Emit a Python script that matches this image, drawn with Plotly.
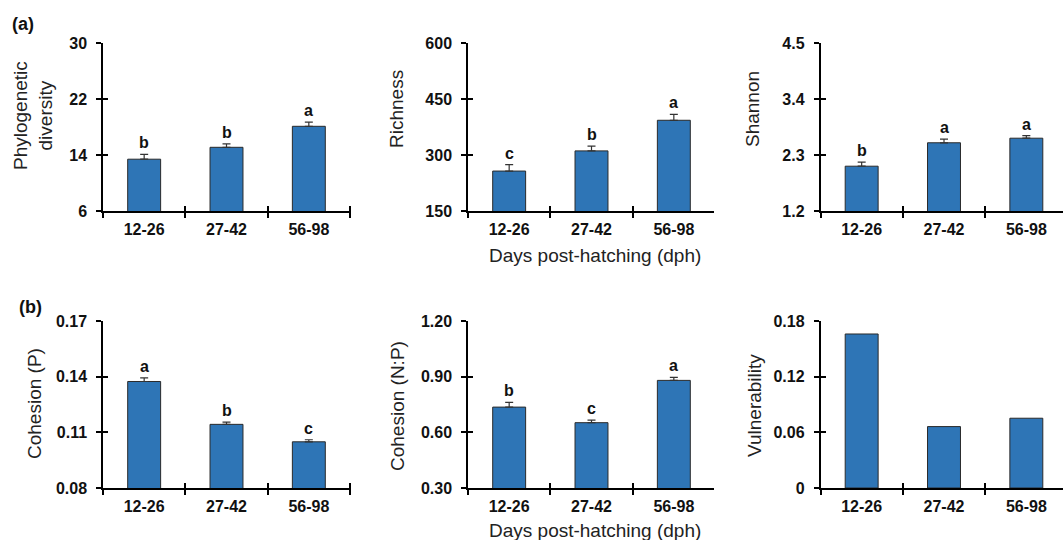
import plotly.graph_objects as go

categories = ["12-26", "27-42", "56-98"]

pd_mean = [13.4, 15.1, 18.1]
pd_err = [0.7, 0.5, 0.6]
pd_letters = ["b", "b", "a"]

rich_mean = [257, 311, 393]
rich_err = [17, 13, 16]
rich_letters = ["c", "b", "a"]

shan_mean = [2.08, 2.54, 2.63]
shan_err = [0.08, 0.07, 0.05]
shan_letters = ["b", "a", "a"]

cohp_mean = [0.1374, 0.1143, 0.1049]
cohp_err = [0.0019, 0.0012, 0.0011]
cohp_letters = ["a", "b", "c"]

cohnp_mean = [0.736, 0.652, 0.880]
cohnp_err = [0.025, 0.014, 0.016]
cohnp_letters = ["b", "c", "a"]

vul_mean = [0.166, 0.0662, 0.0752]

pd_ticks = [6, 14, 22, 30]
rich_ticks = [150, 300, 450, 600]
shan_ticks = [1.2, 2.3, 3.4, 4.5]
cohp_ticks = [0.08, 0.11, 0.14, 0.17]
cohnp_ticks = [0.30, 0.60, 0.90, 1.20]
vul_ticks = [0, 0.06, 0.12, 0.18]

pd_ticktext = ["6", "14", "22", "30"]
rich_ticktext = ["150", "300", "450", "600"]
shan_ticktext = ["1.2", "2.3", "3.4", "4.5"]
cohp_ticktext = ["0.08", "0.11", "0.14", "0.17"]
cohnp_ticktext = ["0.30", "0.60", "0.90", "1.20"]
vul_ticktext = ["0", "0.06", "0.12", "0.18"]

titles = ["Phylogenetic<br>diversity", "Richness", "Shannon",
          "Cohesion (P)", "Cohesion (N:P)", "Vulnerability"]
xlabel = "Days post-hatching (dph)"

W, H = 1063, 540
FONT = "Liberation Sans, Arial, sans-serif"
BAR = "#2E75B6"

panels = [
    (pd_mean, pd_err, pd_letters, pd_ticks, pd_ticktext),
    (rich_mean, rich_err, rich_letters, rich_ticks, rich_ticktext),
    (shan_mean, shan_err, shan_letters, shan_ticks, shan_ticktext),
    (cohp_mean, cohp_err, cohp_letters, cohp_ticks, cohp_ticktext),
    (cohnp_mean, cohnp_err, cohnp_letters, cohnp_ticks, cohnp_ticktext),
    (vul_mean, None, None, vul_ticks, vul_ticktext),
]

# pixel layout of panels: (left, right, top, bottom)
px = [
    (103, 351, 43, 211),
    (468, 714, 43, 211),
    (820.5, 1063, 43, 211),
    (103, 351, 321, 488),
    (468, 714, 321, 488),
    (820.5, 1063, 321, 488),
]
catw = [(r - l) / 3.0 for (l, r, t, b) in px[:2]]
cw = sum(catw) / len(catw)

fig = go.Figure()
layout = {}
annotations = []

for i, (mean, err, letters, ticks, ttext) in enumerate(panels):
    n = i + 1
    sx = "" if n == 1 else str(n)
    l, r, t, b = px[i]
    xmax = -0.5 + (r - l) / cw
    bar = go.Bar(
        x=categories, y=mean, width=0.4,
        marker=dict(color=BAR, line=dict(color="#2a2a2a", width=1)),
        xaxis="x" + sx, yaxis="y" + sx, showlegend=False,
    )
    if err is not None:
        bar.error_y = dict(type="data", array=err, arrayminus=[0] * 3,
                           symmetric=False, color="#333333",
                           thickness=1.2, width=4)
    fig.add_trace(bar)
    # empty traces for overlay (inside) ticks
    ox = str(n + 6)
    fig.add_trace(go.Scatter(x=[None], y=[None], xaxis="x" + ox, yaxis="y" + sx,
                             showlegend=False, hoverinfo="skip"))
    fig.add_trace(go.Scatter(x=[None], y=[None], xaxis="x" + sx, yaxis="y" + ox,
                             showlegend=False, hoverinfo="skip"))

    xdom = [l / W, r / W]
    ydom = [1 - b / H, 1 - t / H]
    yr = [ticks[0], ticks[-1]]
    layout["xaxis" + sx] = dict(
        domain=xdom, anchor="y" + sx, type="category", automargin=False,
        range=[-0.5, xmax], tickson="boundaries",
        ticks="outside", ticklen=5, tickwidth=1.5, tickcolor="black",
        showline=True, linecolor="black", linewidth=1.5,
        showgrid=False, zeroline=False, fixedrange=True, ticklabelstandoff=3,
        tickfont=dict(family=FONT, size=16, color="#111", weight="bold"),
    )
    layout["yaxis" + sx] = dict(
        domain=ydom, anchor="x" + sx, range=yr, automargin=False,
        tickmode="array", tickvals=ticks, ticktext=ttext,
        ticks="outside", ticklen=5, tickwidth=1.5, tickcolor="black",
        showline=True, linecolor="black", linewidth=1.5,
        showgrid=False, zeroline=False, ticklabelstandoff=6,
        tickfont=dict(family=FONT, size=16, color="#111", weight="bold"),
    )
    layout["xaxis" + ox] = dict(
        overlaying="x" + sx, anchor="y" + sx, side="bottom", automargin=False,
        range=[-0.5, xmax], tickmode="array", tickvals=[0.5, 1.5, 2.5],
        ticks="inside", ticklen=5, tickwidth=1.5, tickcolor="black",
        showticklabels=False, showline=False, showgrid=False, zeroline=False,
    )
    layout["yaxis" + ox] = dict(
        overlaying="y" + sx, anchor="x" + sx, side="left", range=yr,
        automargin=False, tickmode="array", tickvals=ticks,
        ticks="inside", ticklen=5, tickwidth=1.5, tickcolor="black",
        showticklabels=False, showline=False, showgrid=False, zeroline=False,
    )
    if letters is not None:
        for c, m, e, lt in zip(categories, mean, err, letters):
            annotations.append(dict(
                x=c, y=m + e, xref="x" + sx, yref="y" + sx,
                text=lt, showarrow=False, yanchor="bottom", yshift=1,
                font=dict(family=FONT, size=16, color="#111", weight="bold"),
            ))

# y-axis titles
ytitle_pos = [(33, 116), (397, 109), (753, 109), (34, 404), (397, 406), (754, 406)]
for txt, (x, y) in zip(titles, ytitle_pos):
    annotations.append(dict(
        x=x / W, y=1 - y / H, xref="paper", yref="paper", text=txt,
        textangle=-90, showarrow=False, xanchor="center", yanchor="middle",
        font=dict(family=FONT, size=19, color="#222"),
    ))

# x titles
for y in (255, 530):
    annotations.append(dict(
        x=595 / W, y=1 - y / H, xref="paper", yref="paper", text=xlabel,
        showarrow=False, xanchor="center", yanchor="middle",
        font=dict(family=FONT, size=19, color="#222"),
    ))

# panel letters
for txt, (x, y) in [("(a)", (23, 24)), ("(b)", (30, 307))]:
    annotations.append(dict(
        x=x / W, y=1 - y / H, xref="paper", yref="paper", text=txt,
        showarrow=False, xanchor="center", yanchor="middle",
        font=dict(family=FONT, size=18, color="#111", weight="bold"),
    ))

fig.update_layout(
    width=W, height=H, margin=dict(l=0, r=0, t=0, b=0, autoexpand=False),
    paper_bgcolor="white", plot_bgcolor="white",
    annotations=annotations, bargap=0.6, **layout,
)

fig.write_html("out.html", config={"displayModeBar": False})
